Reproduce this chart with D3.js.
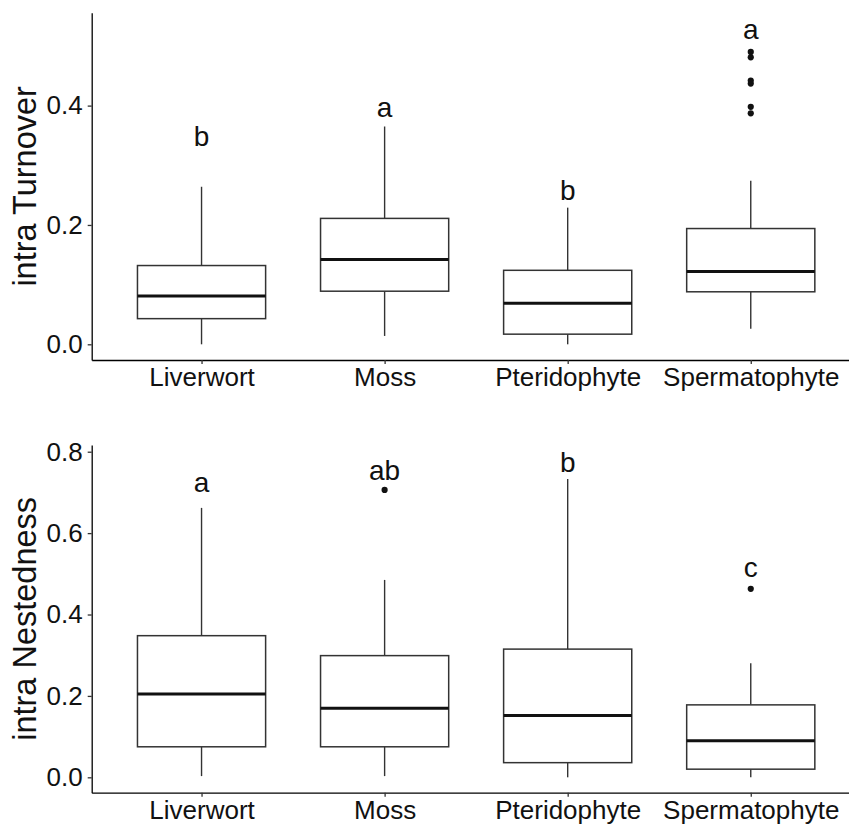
<!DOCTYPE html>
<html>
<head>
<meta charset="utf-8">
<script src="https://cdn.jsdelivr.net/npm/d3@7"></script>
<style>
  html, body { margin: 0; padding: 0; background: #fff; }
  svg { display: block; font-family: "Liberation Sans", Arial, sans-serif; }
</style>
</head>
<body>
<svg id="chart" width="849" height="825"></svg>
<script>
// groups on the x axis
const groups = ["Liverwort", "Moss", "Pteridophyte", "Spermatophyte"];

// intra Turnover: [lower whisker, Q1, median, Q3, upper whisker]
const turnoverStats = [
  [0.000, 0.043, 0.081, 0.132, 0.264],
  [0.014, 0.089, 0.142, 0.211, 0.365],
  [0.000, 0.017, 0.069, 0.124, 0.229],
  [0.026, 0.088, 0.122, 0.194, 0.274]
];
const turnoverOutliers = [[], [], [], [0.490, 0.481, 0.442, 0.437, 0.398, 0.387]];
const turnoverLetters = ["b", "a", "b", "a"];
const turnoverLetterY = [0.332, 0.381, 0.2415, 0.512];
const turnoverTicks = [0.0, 0.2, 0.4];

// intra Nestedness
const nestedStats = [
  [0.003, 0.075, 0.205, 0.348, 0.662],
  [0.003, 0.075, 0.170, 0.299, 0.485],
  [0.000, 0.036, 0.152, 0.315, 0.733],
  [0.000, 0.020, 0.090, 0.178, 0.280]
];
const nestedOutliers = [[], [0.706], [], [0.463]];
const nestedLetters = ["a", "ab", "b", "c"];
const nestedLetterY = [0.701, 0.730, 0.751, 0.493];
const nestedTicks = [0.0, 0.2, 0.4, 0.6, 0.8];

const svg = d3.select("#chart");
const left = 91.7, right = 860.6;

function panel(opts) {
  const { top, bottom, domain, stats, outliers, letters, letterY, ticks, title } = opts;
  const g = svg.append("g");
  const x = d3.scalePoint().domain(groups).range([left, right]).padding(0.6);
  const y = d3.scaleLinear().domain(domain).range([bottom, top]);
  const bw = x.step() * 0.7;

  // axes
  const ya = g.append("g").attr("transform", `translate(${left},0)`)
    .call(d3.axisLeft(y).tickValues(ticks).tickFormat(d3.format(".1f")).tickSize(4).tickSizeOuter(0).tickPadding(5));
  const xa = g.append("g").attr("transform", `translate(0,${bottom})`)
    .call(d3.axisBottom(x).tickSize(4).tickSizeOuter(0).tickPadding(4));
  [ya, xa].forEach((a) => {
    a.select(".domain").attr("stroke", "#000").attr("stroke-width", 1.3);
    a.selectAll(".tick line").attr("stroke", "#333").attr("stroke-width", 1.3);
    a.selectAll(".tick text").attr("fill", "#111").style("font-size", "26px")
      .style("font-family", "'Liberation Sans', Arial, sans-serif");
  });

  const boxes = g.append("g").selectAll("g").data(groups).join("g")
    .attr("transform", (d) => `translate(${x(d)},0)`);
  boxes.each(function (d, i) {
    const s = stats[i];
    const b = d3.select(this);
    b.append("line").attr("x1", 0).attr("x2", 0).attr("y1", y(s[3])).attr("y2", y(s[4]))
      .attr("stroke", "#333").attr("stroke-width", 1.4);
    b.append("line").attr("x1", 0).attr("x2", 0).attr("y1", y(s[0])).attr("y2", y(s[1]))
      .attr("stroke", "#333").attr("stroke-width", 1.4);
    b.append("rect").attr("x", -bw / 2).attr("width", bw)
      .attr("y", y(s[3])).attr("height", y(s[1]) - y(s[3]))
      .attr("fill", "#fff").attr("stroke", "#333").attr("stroke-width", 1.5);
    b.append("line").attr("x1", -bw / 2).attr("x2", bw / 2).attr("y1", y(s[2])).attr("y2", y(s[2]))
      .attr("stroke", "#111").attr("stroke-width", 3);
    b.selectAll("circle").data(outliers[i]).join("circle")
      .attr("cx", 0).attr("cy", (v) => y(v)).attr("r", 3.1).attr("fill", "#111");
    b.append("text").attr("x", 0).attr("y", y(letterY[i])).attr("text-anchor", "middle")
      .attr("fill", "#111").style("font-size", "28px").text(letters[i]);
  });

  g.append("text")
    .attr("transform", `translate(36,${(top + bottom) / 2}) rotate(-90)`)
    .attr("text-anchor", "middle").attr("fill", "#111").style("font-size", "32.5px")
    .text(title);
}

panel({
  top: 12.7, bottom: 360, domain: [-0.0263, 0.5557],
  stats: turnoverStats, outliers: turnoverOutliers, letters: turnoverLetters,
  letterY: turnoverLetterY, ticks: turnoverTicks, title: "intra Turnover"
});
panel({
  top: 445, bottom: 792.7, domain: [-0.0378, 0.8165],
  stats: nestedStats, outliers: nestedOutliers, letters: nestedLetters,
  letterY: nestedLetterY, ticks: nestedTicks, title: "intra Nestedness"
});
</script>
</body>
</html>
